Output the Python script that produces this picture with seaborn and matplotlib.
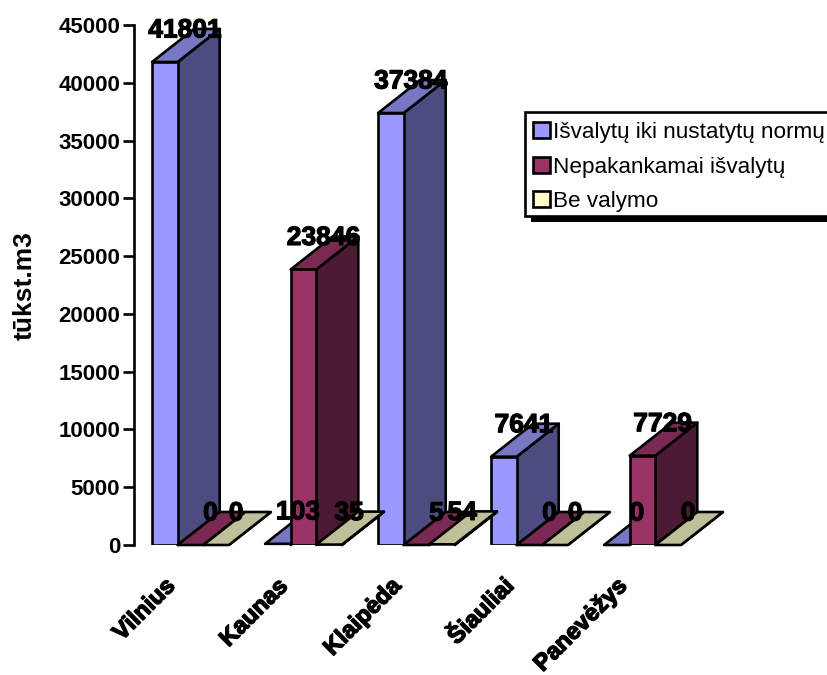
import matplotlib
matplotlib.use("Agg")
import matplotlib.pyplot as plt
import matplotlib.patheffects as pe
from matplotlib.patches import Patch, Polygon, Rectangle
from matplotlib.transforms import ScaledTranslation
import pandas as pd
import seaborn as sns

# Wastewater volumes by city, thousand cubic metres
cities = ["Vilnius", "Kaunas", "Klaipėda", "Šiauliai", "Panevėžys"]
series_names = ["Išvalytų iki nustatytų normų", "Nepakankamai išvalytų", "Be valymo"]
treated_to_norm = [41801, 103, 37384, 7641, 0]
under_treated = [0, 23846, 5, 0, 7729]
untreated = [0, 35, 54, 0, 0]
y_ticks = [0, 5000, 10000, 15000, 20000, 25000, 30000, 35000, 40000, 45000]
y_label = "tūkst.m3"

front_colors = ["#9999FF", "#993366", "#FFFFCC"]
side_colors = ["#4C4C80", "#4D1A33", "#808066"]
top_colors = ["#7777C4", "#7A2952", "#BFBF99"]

W, H, DPI = 828, 675, 100
LINE = 1.9
FONT = "Liberation Sans"

sns.set_theme(style="ticks")
plt.rcParams["font.family"] = [FONT, "DejaVu Sans"]

fig = plt.figure(figsize=(W / DPI, H / DPI), dpi=DPI, facecolor="white")
ax = fig.add_axes([134 / W, 1 - 545 / H, 565 / W, 520 / H])
ax.set_facecolor("none")

table = pd.DataFrame({
    "city": cities * 3,
    "series": [name for name in series_names for _ in cities],
    "value": treated_to_norm + under_treated + untreated,
})

sns.barplot(
    data=table, x="city", y="value", hue="series", order=cities,
    hue_order=series_names, palette=front_colors, saturation=1, width=0.68,
    gap=0, edgecolor="black", linewidth=LINE, legend=False, ax=ax,
)

ax.set_xlim(-0.5, 4.5)
ax.set_ylim(0, 45000)
ax.set_yticks(y_ticks)

# Pixel-to-data factors for the oblique depth of the bars
px_x = 5 / 565
px_y = 45000 / 520
depth_x = 42 * px_x
depth_y = 33 * px_y

# Oblique side and top faces, stacked left to right inside each group
for s, container in enumerate(ax.containers):
    for bar in container:
        x0 = bar.get_x()
        x1 = x0 + bar.get_width()
        h = bar.get_height()
        bar.set_zorder(5 + 3 * s + 2)
        side = Polygon(
            [(x1, 0), (x1 + depth_x, depth_y), (x1 + depth_x, h + depth_y), (x1, h)],
            facecolor=side_colors[s], edgecolor="black", linewidth=LINE,
            joinstyle="round", clip_on=False, zorder=5 + 3 * s,
        )
        top = Polygon(
            [(x0, h), (x1, h), (x1 + depth_x, h + depth_y), (x0 + depth_x, h + depth_y)],
            facecolor=top_colors[s], edgecolor="black", linewidth=LINE,
            joinstyle="round", clip_on=False, zorder=5 + 3 * s + 1,
        )
        ax.add_patch(side)
        ax.add_patch(top)

# Value labels sit above the back edge of each bar
for container in ax.containers:
    for bar in container:
        h = bar.get_height()
        ax.annotate(
            f"{h:.0f}",
            xy=(bar.get_x() + bar.get_width() / 2, h),
            xytext=(20 * 72 / DPI, 31.5 * 72 / DPI), textcoords="offset points",
            ha="center", va="center", fontsize=19, fontweight="bold", color="black",
            annotation_clip=False, zorder=30,
            path_effects=[pe.withStroke(linewidth=0.9, foreground="black")],
        )

sns.despine(ax=ax, bottom=True)
ax.spines["left"].set_linewidth(LINE)
ax.spines["left"].set_color("black")
ax.set_xlabel("")
ax.set_ylabel(y_label, fontsize=19, fontweight="bold", color="black", labelpad=0)
ax.yaxis.set_label_coords(37 / W, 1 - 286 / H, transform=fig.transFigure)
ax.tick_params(axis="y", length=8, width=LINE, color="black", pad=2, labelcolor="black")
ax.tick_params(axis="x", length=0, pad=21, labelcolor="black")
for label in ax.get_yticklabels():
    label.set_fontsize(16)
    label.set_fontweight("bold")

ax.set_xticks(range(len(cities)))
ax.set_xticklabels(cities, rotation=45, ha="right", rotation_mode="anchor", va="top",
                   fontsize=17, fontweight="bold")
shift = ScaledTranslation(-27 / DPI, 0, fig.dpi_scale_trans)
for label in ax.get_xticklabels():
    label.set_transform(label.get_transform() + shift)
    label.set_path_effects([pe.withStroke(linewidth=1.0, foreground="black")])

# Legend box and its solid drop shadow run off the right edge of the figure
ax.add_patch(Rectangle((531 / W, 1 - 222 / H), 320 / W, 104 / H, transform=fig.transFigure,
                       facecolor="black", edgecolor="none", clip_on=False, zorder=38))
ax.add_patch(Rectangle((525 / W, 1 - 216 / H), 320 / W, 104 / H, transform=fig.transFigure,
                       facecolor="white", edgecolor="black", linewidth=LINE,
                       clip_on=False, zorder=39))

handles = [Patch(facecolor=c, edgecolor="black", linewidth=LINE) for c in front_colors]
legend = ax.legend(
    handles, series_names, loc="upper left",
    bbox_to_anchor=(525 / W, 1 - 114 / H), bbox_transform=fig.transFigure,
    borderaxespad=0, fontsize=16.2, frameon=False, borderpad=0.36,
    labelspacing=0.6, handlelength=0.73, handleheight=0.73, handletextpad=0.17,
)
legend.set_zorder(40)
for text in legend.get_texts():
    text.set_color("black")

fig.savefig("out.png", dpi=DPI, facecolor="white")
